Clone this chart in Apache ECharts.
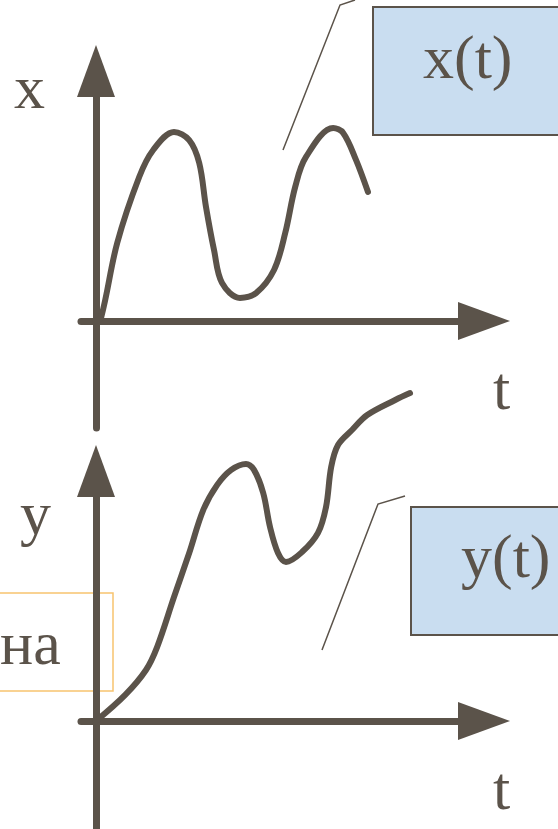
<!DOCTYPE html>
<html>
<head>
<meta charset="utf-8">
<script src="https://cdn.jsdelivr.net/npm/echarts@6/dist/echarts.min.js"></script>
<style>
  html, body { margin: 0; padding: 0; background: #ffffff; }
  #chart { width: 558px; height: 829px; }
</style>
</head>
<body>
<div id="chart"></div>
<script>
// x(t) curve (top panel)
const tTop = [0, 0.13, 0.53, 1.08, 1.43, 1.95, 2.33, 2.58, 2.75, 2.95, 3.15, 3.6, 4.0, 4.45, 4.73, 4.98, 5.25, 5.93, 6.18, 6.5, 6.8];
const xVals = [0, 0.13, 2.6, 4.8, 5.7, 6.3, 6.03, 5.27, 3.8, 2.37, 1.27, 0.77, 0.93, 1.7, 2.93, 4.47, 5.47, 6.43, 6.27, 5.37, 4.3];
// y(t) curve (bottom panel)
const tBottom = [0, 0.73, 1.25, 1.53, 1.95, 2.33, 2.68, 3.03, 3.38, 3.75, 3.95, 4.18, 4.35, 4.55, 4.75, 5.15, 5.55, 5.75, 5.88, 6.05, 6.4, 6.78, 7.48, 7.85];
const yVals = [0, 0.87, 1.7, 2.47, 4.13, 5.6, 7.03, 7.87, 8.37, 8.57, 8.37, 7.6, 6.47, 5.6, 5.3, 5.63, 6.27, 7.13, 8.47, 9.2, 9.7, 10.2, 10.7, 10.93];
// texts
const axisNames = { top: ['x', 't'], bottom: ['y', 't'] };
const boxLabels = ['x(t)', 'y(t)'];
const sideText = 'на';

const INK = '#5b534a';

const chart = echarts.init(document.getElementById('chart'), null, { renderer: 'svg' });

function axisX(gridIndex) {
  return {
    type: 'value', gridIndex, min: -0.375, max: 9.7, z: 10,
    axisLine: { show: true, onZero: true, symbol: ['none', 'triangle'], symbolSize: [38, 52],
      lineStyle: { color: INK, width: 7 } },
    axisTick: { show: false }, axisLabel: { show: false }, splitLine: { show: false }
  };
}
function axisY(gridIndex) {
  return {
    type: 'value', gridIndex, min: -3.567, max: 8.333, z: 10,
    axisLine: { show: true, onZero: true, symbol: ['none', 'triangle'], symbolSize: [38, 52],
      lineStyle: { color: INK, width: 7 } },
    axisTick: { show: false }, axisLabel: { show: false }, splitLine: { show: false }
  };
}
function txt(text, x, y, align) {
  return { type: 'text', z: 2, style: {
    text, x, y, fontFamily: 'Liberation Serif', fontSize: 62, fill: INK,
    textAlign: align || 'left', textVerticalAlign: 'middle' } };
}

const option = {
  backgroundColor: '#ffffff',
  animation: false,
  grid: [
    { left: 81, right: 74, top: 71, height: 357 },
    { left: 81, right: 74, top: 471, height: 357 }
  ],
  xAxis: [axisX(0), axisX(1)],
  yAxis: [axisY(0), axisY(1)],
  series: [
    {
      type: 'line', xAxisIndex: 0, yAxisIndex: 0, smooth: 0.35, symbol: 'none', clip: false, z: 12,
      lineStyle: { color: INK, width: 6, cap: 'round', join: 'round' },
      data: tTop.map((t, i) => [t, xVals[i]])
    },
    {
      type: 'line', xAxisIndex: 1, yAxisIndex: 1, smooth: 0.35, symbol: 'none', clip: false, z: 12,
      lineStyle: { color: INK, width: 6, cap: 'round', join: 'round' },
      data: tBottom.map((t, i) => [t, yVals[i]])
    }
  ],
  graphic: [
    // callout boxes
    { type: 'rect', z: 1, shape: { x: 373, y: 7, width: 200, height: 128 },
      style: { fill: '#c9ddf0', stroke: INK, lineWidth: 2 } },
    { type: 'rect', z: 1, shape: { x: 411, y: 507, width: 200, height: 128 },
      style: { fill: '#c9ddf0', stroke: INK, lineWidth: 2 } },
    { type: 'rect', z: 1, shape: { x: -5, y: 593, width: 118, height: 98 },
      style: { fill: 'none', stroke: '#f8c36f', lineWidth: 1.5 } },
    // leader lines
    { type: 'polyline', z: 1, shape: { points: [[283, 150], [340, 5], [355, 0]] },
      style: { stroke: INK, lineWidth: 1.5, fill: 'none' } },
    { type: 'polyline', z: 1, shape: { points: [[322, 650], [378, 504], [405, 496]] },
      style: { stroke: INK, lineWidth: 1.5, fill: 'none' } },
    // texts
    txt(boxLabels[0], 423, 57),
    txt(boxLabels[1], 461, 556),
    txt(sideText, 0, 643),
    txt(axisNames.top[0], 14, 87),
    txt(axisNames.top[1], 493, 388),
    txt(axisNames.bottom[0], 20, 513),
    txt(axisNames.bottom[1], 493, 788)
  ]
};
chart.setOption(option);
</script>
</body>
</html>
